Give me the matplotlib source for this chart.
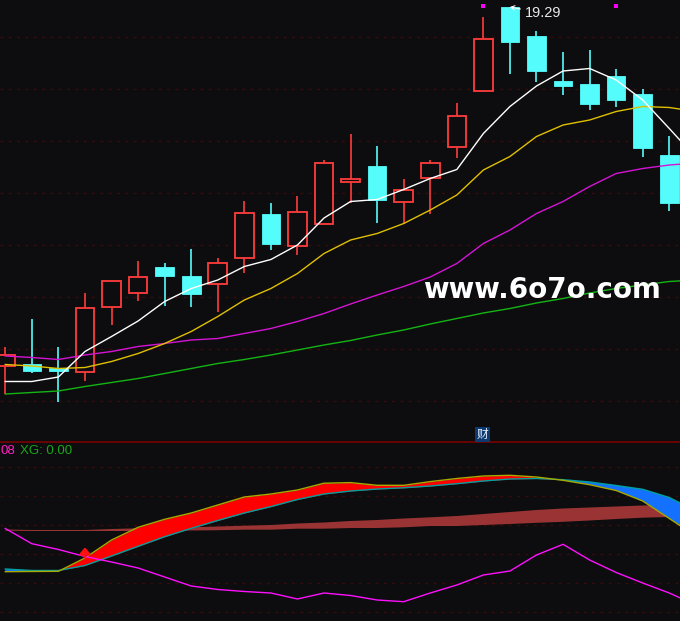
import numpy as np
import matplotlib
matplotlib.use('Agg')
import matplotlib.pyplot as plt
from matplotlib.lines import Line2D

# ---------------- data ----------------
opens  = [12.11, 12.15, 12.08, 12.00, 13.30, 13.58, 14.09, 13.91, 13.76, 14.28, 15.15, 14.52, 14.96,
          15.80, 16.11, 15.40, 15.88, 16.50, 17.62, 19.29, 18.71, 17.81, 17.75, 17.91, 17.55, 16.33]
highs  = [12.49, 13.05, 12.49, 13.57, 13.82, 14.21, 14.17, 14.45, 14.27, 15.41, 15.37, 15.51, 16.23,
          16.75, 16.51, 15.85, 16.23, 17.37, 19.09, 19.29, 18.81, 18.39, 18.44, 18.06, 17.65, 16.71]
lows   = [11.55, 11.96, 11.40, 11.80, 12.94, 13.42, 13.32, 13.30, 13.20, 13.98, 14.44, 14.34, 14.96,
          15.38, 14.97, 14.96, 15.16, 16.28, 17.62, 17.96, 17.80, 17.54, 17.24, 17.30, 16.30, 15.22]
closes = [12.34, 12.02, 12.02, 13.28, 13.82, 13.90, 13.92, 13.56, 14.18, 15.16, 14.56, 15.20, 16.18,
          15.86, 15.43, 15.64, 16.18, 17.10, 18.66, 18.60, 18.02, 17.72, 17.36, 17.44, 16.48, 15.38]

ma5  = [11.80, 11.80, 11.89, 12.40, 12.70, 13.01, 13.40, 13.66, 13.83, 14.10, 14.24, 14.53, 15.07, 15.40,
        15.44, 15.64, 15.86, 16.04, 16.76, 17.30, 17.71, 18.01, 18.06, 17.83, 17.43, 16.86, 16.28]
ma10 = [12.14, 12.11, 12.06, 12.08, 12.20, 12.36, 12.56, 12.80, 13.10, 13.43, 13.66, 13.96, 14.36, 14.63,
        14.76, 14.96, 15.23, 15.53, 16.03, 16.30, 16.70, 16.93, 17.03, 17.20, 17.30, 17.28, 17.20]
ma20 = [12.31, 12.28, 12.24, 12.33, 12.40, 12.50, 12.56, 12.63, 12.66, 12.76, 12.86, 13.00, 13.16, 13.35,
        13.53, 13.70, 13.89, 14.16, 14.56, 14.83, 15.16, 15.40, 15.70, 15.96, 16.06, 16.13, 16.17]
ma60 = [11.55, 11.58, 11.61, 11.70, 11.78, 11.86, 11.96, 12.06, 12.16, 12.24, 12.33, 12.43, 12.53, 12.62,
        12.73, 12.83, 12.95, 13.06, 13.17, 13.26, 13.37, 13.46, 13.57, 13.66, 13.73, 13.80, 13.83]

price_grid = [18.69, 17.65, 16.61, 15.57, 14.53, 13.49, 12.45, 11.41]
signal_days = [18, 23]          # magenta markers at the top
signal_level = 19.32

# lower indicator panel
fast = [27.81, 27.95, 28.08, 37.26, 49.68, 58.44, 63.96, 68.31, 73.83, 79.35, 81.42, 84.18, 88.87, 89.29,
        87.42, 87.42, 89.98, 92.12, 93.84, 94.32, 93.15, 90.87, 87.84, 83.84, 76.59, 64.52, 52.44]
slow = [29.67, 28.64, 28.64, 32.09, 38.64, 45.33, 51.96, 57.75, 63.14, 68.31, 72.73, 77.63, 81.42, 83.49,
        84.87, 85.70, 86.94, 88.53, 90.39, 91.77, 92.12, 91.29, 89.70, 87.29, 84.66, 79.01, 69.69]
band_top = [56.93, 56.58, 56.58, 56.58, 57.27, 57.75, 57.96, 58.44, 59.00, 59.55, 60.03, 61.07, 61.76, 62.79,
            63.48, 64.52, 65.34, 66.24, 67.62, 69.00, 70.38, 71.42, 72.11, 72.80, 73.49, 73.83, 74.18]
band_bot = [56.10, 55.89, 55.89, 55.89, 55.89, 55.89, 56.03, 56.24, 56.44, 56.79, 56.79, 57.48, 57.48, 57.96,
            57.96, 58.44, 59.34, 59.34, 60.03, 60.72, 61.55, 62.24, 63.14, 64.17, 65.07, 65.55, 65.90]
osc = [57.62, 47.13, 43.13, 38.30, 34.50, 30.36, 24.15, 17.94, 15.53, 14.15, 13.11, 8.97, 13.11, 11.39,
       8.28, 7.11, 13.11, 18.63, 25.53, 28.29, 39.33, 46.71, 35.88, 27.26, 20.01, 13.11, 4.83]
lower_grid = [0, 20, 40, 60, 80, 100]
buy_day = 3
buy_from, buy_to = 37.7, 44.6
xg_value = 0.00

# ---------------- style ----------------
BG = '#0d0d0f'
RED = '#ff3c3c'
CYAN = '#54fcfc'
GRID = '#3a0b0b'

fig = plt.figure(figsize=(6.8, 6.21), dpi=100, facecolor=BG)
ax = fig.add_axes([0, 180 / 621, 1, 441 / 621])
ax2 = fig.add_axes([0, 0, 1, 179 / 621])
for a in (ax, ax2):
    a.set_facecolor(BG)
    for s in a.spines.values():
        s.set_visible(False)
    a.set_xticks([])
    a.set_yticks([])

n = len(opens)
xi = np.arange(n)
xm = np.arange(len(ma5))
o = np.array(opens); h = np.array(highs); l = np.array(lows); c = np.array(closes)
up = c >= o
w = 0.70

for y in price_grid:
    ax.axhline(y, color=GRID, lw=1, ls=(0, (2, 4)), zorder=0)

# wicks
for i in range(n):
    if up[i]:
        ax.vlines(i, c[i], h[i], color=RED, lw=1.2, zorder=2)
        ax.vlines(i, l[i], o[i], color=RED, lw=1.2, zorder=2)
    else:
        ax.vlines(i, l[i], h[i], color=CYAN, lw=1.2, zorder=2)
# bodies
ax.bar(xi[up], (c - o)[up], bottom=o[up], width=w, facecolor=BG, edgecolor=RED, lw=1.3, zorder=3)
ax.bar(xi[~up], (o - c)[~up], bottom=c[~up], width=w, facecolor=CYAN, edgecolor=CYAN, lw=0.6, zorder=3)

ax.plot(xm, ma60, color='#14b414', lw=1.0, zorder=4)
ax.plot(xm, ma20, color='#d414d4', lw=1.0, zorder=4)
ax.plot(xm, ma10, color='#e0c000', lw=1.0, zorder=4)
ax.plot(xm, ma5, color='#ffffff', lw=1.0, zorder=4)

ax.scatter(signal_days, [signal_level] * len(signal_days), marker='s', s=7, color='#ff00ff', zorder=5, linewidths=0)

imax = int(np.argmax(h))
ax.annotate(f'{h[imax]:.2f}', xy=(imax, h[imax]), xytext=(10.5, -4.5), textcoords='offset points',
            color='#e8e8e8', fontsize=10.5, family='Liberation Sans', va='center', ha='left',
            arrowprops=dict(arrowstyle='->,head_length=0.25,head_width=0.15', color='white', lw=0.8,
                            shrinkA=1, shrinkB=0), zorder=6)

ax.set_xlim(-0.1995, 25.403)
ax.set_ylim(10.61, 19.43)

# watermark
ax.text(0.797, 0.342, 'www.6o7o.com', transform=ax.transAxes, color='white', fontsize=20,
        fontweight='bold', family='DejaVu Sans', ha='center', va='center', zorder=7)

# ---------------- lower panel ----------------
for y in lower_grid:
    ax2.axhline(y, color=GRID, lw=1, ls=(0, (2, 4)), zorder=0)

ax2.fill_between(xm, band_bot, band_top, color='#9a3434', lw=0, zorder=2)
f = np.array(fast); s_ = np.array(slow)
ax2.fill_between(xm, f, s_, where=f >= s_, interpolate=True, color='#ff0000', lw=0, zorder=3)
ax2.fill_between(xm, f, s_, where=f < s_, interpolate=True, color='#1470ff', lw=0, zorder=3)
ax2.plot(xm, slow, color='#00a0a0', lw=1.0, zorder=4)
ax2.plot(xm, fast, color='#a8a800', lw=1.0, zorder=4)
ax2.plot(xm, osc, color='#ff10ff', lw=1.0, zorder=5)
ax2.annotate('', xy=(buy_day, buy_to), xytext=(buy_day, buy_from),
             arrowprops=dict(arrowstyle='-|>,head_length=0.35,head_width=0.3', color='#ff1010', lw=2.0,
                             shrinkA=0, shrinkB=0), zorder=6)
ax2.set_xlim(-0.1995, 25.403)
ax2.set_ylim(-6.21, 117.3)

ax2.text(0.001, 0.95, '08', transform=ax2.transAxes, color='#ff20c0', fontsize=9.5,
         family='Liberation Sans', ha='left', va='center')
ax2.text(0.029, 0.95, f'XG: {xg_value:.2f}', transform=ax2.transAxes, color='#18a818', fontsize=9.5,
         family='Liberation Sans', ha='left', va='center')

# separator line between panels
fig.add_artist(Line2D([0, 1], [1 - 442.3 / 621] * 2, color='#7a0000', lw=1.2, transform=fig.transFigure))

# tag
fig.text(482.5 / 680, 1 - 434.5 / 621, '财', color='#e8eef8', fontsize=8.5,
         family=['Noto Sans CJK SC', 'DejaVu Sans'], ha='center', va='center',
         bbox=dict(boxstyle='square,pad=0.12', facecolor='#0c3a70', edgecolor='none'))

fig.savefig('out.png', dpi=100, facecolor=BG)
